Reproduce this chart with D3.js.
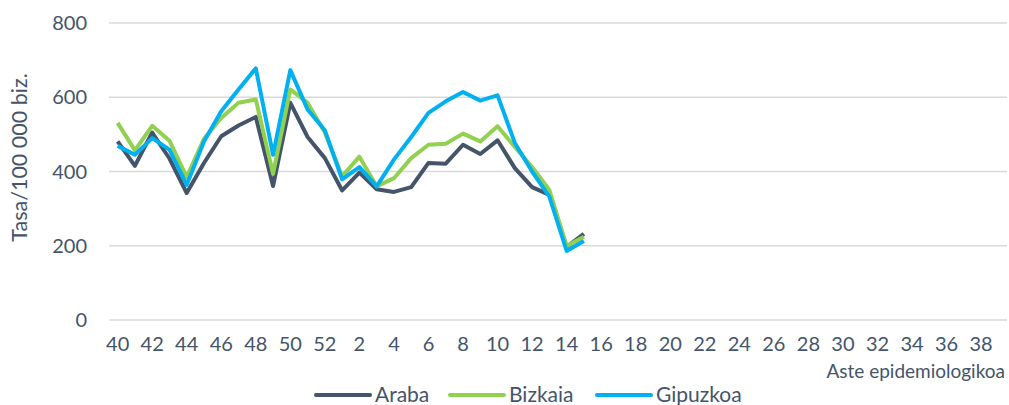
<!DOCTYPE html>
<html>
<head>
<meta charset="utf-8">
<script src="https://cdn.jsdelivr.net/npm/d3@7"></script>
<style>
  body { margin: 0; background: #fff; }
  text { font-family: Lato, "Open Sans", sans-serif; fill: #44546A; }
</style>
</head>
<body>
<svg id="chart" width="1009" height="405"></svg>
<script>
// weeks 40..52 then 1..39
const weeks = d3.range(40, 53).concat(d3.range(1, 40)).map(String);
const yTicks = [0, 200, 400, 600, 800];

const araba = [481, 415, 505, 435, 342, 423, 495, 524, 547, 361, 585, 493, 436, 349,
  397, 352, 345, 358, 423, 421, 472, 447, 484, 409, 358, 337, 197, 232];
const bizkaia = [531, 457, 523, 483, 385, 488, 544, 585, 594, 394, 621, 585, 505, 387,
  440, 360, 382, 436, 472, 475, 502, 481, 522, 466, 412, 350, 199, 224];
const gipuzkoa = [469, 445, 490, 459, 364, 481, 562, 621, 678, 445, 673, 567, 511, 379,
  412, 360, 432, 493, 558, 589, 614, 591, 605, 477, 400, 332, 186, 213];

const series = [
  {name: "Araba", values: araba, color: "#44546A"},
  {name: "Bizkaia", values: bizkaia, color: "#92D050"},
  {name: "Gipuzkoa", values: gipuzkoa, color: "#00B0F0"}
];

const svg = d3.select("#chart");
const margin = {left: 109, right: 2, top: 23, bottom: 85};
const width = 1009, height = 405;

const x = d3.scaleBand().domain(weeks)
  .range([margin.left, width - margin.right]);
const y = d3.scaleLinear().domain([0, 800])
  .range([height - margin.bottom, margin.top]);

// gridlines
svg.append("g")
  .selectAll("line")
  .data(yTicks)
  .join("line")
  .attr("x1", margin.left).attr("x2", width - margin.right)
  .attr("y1", d => y(d)).attr("y2", d => y(d))
  .attr("stroke", "#d9d9d9").attr("stroke-width", 1.3);

// y tick labels
svg.append("g")
  .selectAll("text")
  .data(yTicks)
  .join("text")
  .attr("x", 87).attr("y", d => y(d))
  .attr("dy", "0.35em")
  .attr("text-anchor", "end")
  .attr("font-size", 20)
  .text(d => d);

// x tick labels (every other week)
svg.append("g")
  .selectAll("text")
  .data(weeks.filter((d, i) => i % 2 === 0))
  .join("text")
  .attr("x", d => x(d) + x.bandwidth() / 2)
  .attr("y", 344)
  .attr("dy", "0.35em")
  .attr("text-anchor", "middle")
  .attr("font-size", 20)
  .text(d => d);

// axis titles
svg.append("text")
  .attr("transform", `translate(19,${y(400) - 14}) rotate(-90)`)
  .attr("text-anchor", "middle")
  .attr("dy", "0.35em")
  .attr("font-size", 21.5)
  .text("Tasa/100 000 biz.");

svg.append("text")
  .attr("x", 1005).attr("y", 371)
  .attr("dy", "0.35em")
  .attr("text-anchor", "end")
  .attr("font-size", 19)
  .text("Aste epidemiologikoa");

// lines
const line = d3.line()
  .x((d, i) => x(weeks[i]) + x.bandwidth() / 2)
  .y(d => y(d));

svg.append("g")
  .selectAll("path")
  .data(series)
  .join("path")
  .attr("d", d => line(d.values))
  .attr("fill", "none")
  .attr("stroke", d => d.color)
  .attr("stroke-width", 4)
  .attr("stroke-linejoin", "round");

// legend
const legendX = [316, 450, 597];
const legend = svg.append("g")
  .selectAll("g")
  .data(series)
  .join("g")
  .attr("transform", (d, i) => `translate(${legendX[i]},395)`);

legend.append("line")
  .attr("x1", 0).attr("x2", 54)
  .attr("stroke", d => d.color)
  .attr("stroke-width", 4)
  .attr("stroke-linecap", "round");

legend.append("text")
  .attr("x", 59)
  .attr("dy", "0.35em")
  .attr("font-size", 21)
  .text(d => d.name);
</script>
</body>
</html>
